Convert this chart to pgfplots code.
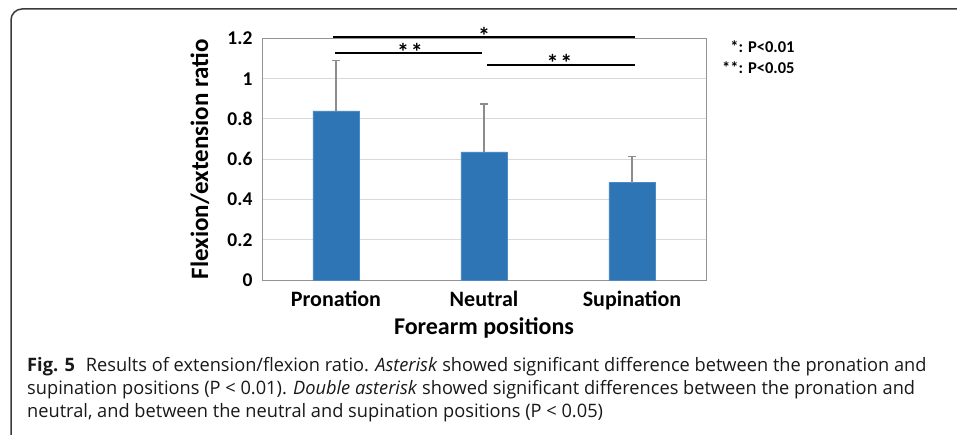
\documentclass[border=0pt]{standalone}
\usepackage{fontspec}
\setmainfont{Carlito}
\newfontfamily\capfont[FakeStretch=0.985]{Open Sans}
\usepackage{pgfplots}
\pgfplotsset{compat=1.18}
\definecolor{barblue}{HTML}{2E75B6}
\definecolor{errgray}{HTML}{8C8C8C}
\definecolor{gridgray}{HTML}{D9D9D9}
\definecolor{framegray}{HTML}{3A3A3A}
\pgfplotstableread{
x y e
0 0.840 0.250
1 0.637 0.238
2 0.484 0.130
}\ratios
\begin{document}
\begin{tikzpicture}
\useasboundingbox (0pt,0pt) rectangle (957pt,-435pt);
\draw[line width=1.5pt, color=framegray, rounded corners=11pt] (11pt,-445pt) |- (970pt,-9pt);
\begin{axis}[
  at={(262pt,-280pt)}, anchor=south west,
  scale only axis, width=444pt, height=241.5pt,
  xmin=-0.5, xmax=2.5, ymin=0, ymax=1.2,
  xtick={0,1,2}, xticklabels={Pronation,Neutral,Supination},
  ytick={0,0.2,0.4,0.6,0.8,1,1.2},
  yticklabels={0,0.2,0.4,0.6,0.8,1,1.2},
  /pgf/number format/assume math mode=true,
  major tick length=0pt,
  axis line style={draw=gray!85, line width=0.8pt},
  ymajorgrids, grid style={draw=gridgray, line width=1pt},
  xticklabel style={font=\bfseries\fontsize{22}{22}\selectfont, text height=15pt, text depth=5pt, yshift=-8pt},
  yticklabel style={font=\bfseries\fontsize{19.5}{19.5}\selectfont, xshift=-6pt},
  xlabel={Forearm positions},
  ylabel={Flexion/extension ratio},
  xlabel style={font=\bfseries\fontsize{24}{24}\selectfont, at={(axis description cs:0.5,0)}, anchor=center, yshift=-48pt},
  ylabel style={font=\bfseries\fontsize{25}{25}\selectfont, at={(axis description cs:-0.14,0.5)}, anchor=center},
  clip=false,
]
\addplot[ybar, bar width=46.5pt, fill=barblue, draw=barblue!85!white,
  error bars/.cd, y dir=plus, y explicit,
  error bar style={color=errgray, line width=1.2pt},
  error mark options={color=errgray, line width=1.2pt, mark size=4pt, rotate=90}]
  table[x=x, y=y, y error=e] {\ratios};
\addplot[black, line width=2pt, sharp plot, mark=none] coordinates {(-0.02,1.206) (2.02,1.206)};
\addplot[black, line width=2pt, sharp plot, mark=none] coordinates {(-0.01,1.126) (0.986,1.126)};
\addplot[black, line width=2pt, sharp plot, mark=none] coordinates {(1.02,1.068) (2.02,1.068)};
\node[font=\bfseries\fontsize{24}{24}\selectfont, anchor=center] at (axis cs:1.0,1.214) {*};
\node[font=\bfseries\fontsize{24}{24}\selectfont, anchor=center] at (axis cs:0.5,1.133) {*\hspace{2pt}*};
\node[font=\bfseries\fontsize{24}{24}\selectfont, anchor=center] at (axis cs:1.51,1.078) {*\hspace{2pt}*};
\node[font=\bfseries\fontsize{16.5}{16.5}\selectfont, anchor=base east, inner sep=0pt] at (axis cs:3.1,1.131) {*: P<0.01};
\node[font=\bfseries\fontsize{16.5}{16.5}\selectfont, anchor=base east, inner sep=0pt] at (axis cs:3.1,1.025) {**: P<0.05};
\end{axis}
\begin{scope}[every node/.style={anchor=base west, inner sep=0pt, font=\capfont\fontsize{18.5}{18.5}\selectfont, text=black!90}]
\node at (27pt,-371.7pt) {\textbf{Fig. 5}\hspace{11pt}Results of extension/flexion ratio. \textit{Asterisk} showed significant difference between the pronation and};
\node at (27pt,-394.7pt) {supination positions (P < 0.01). \textit{Double asterisk} showed significant differences between the pronation and};
\node at (27pt,-417.7pt) {neutral, and between the neutral and supination positions (P < 0.05)};
\end{scope}
\end{tikzpicture}
\end{document}
